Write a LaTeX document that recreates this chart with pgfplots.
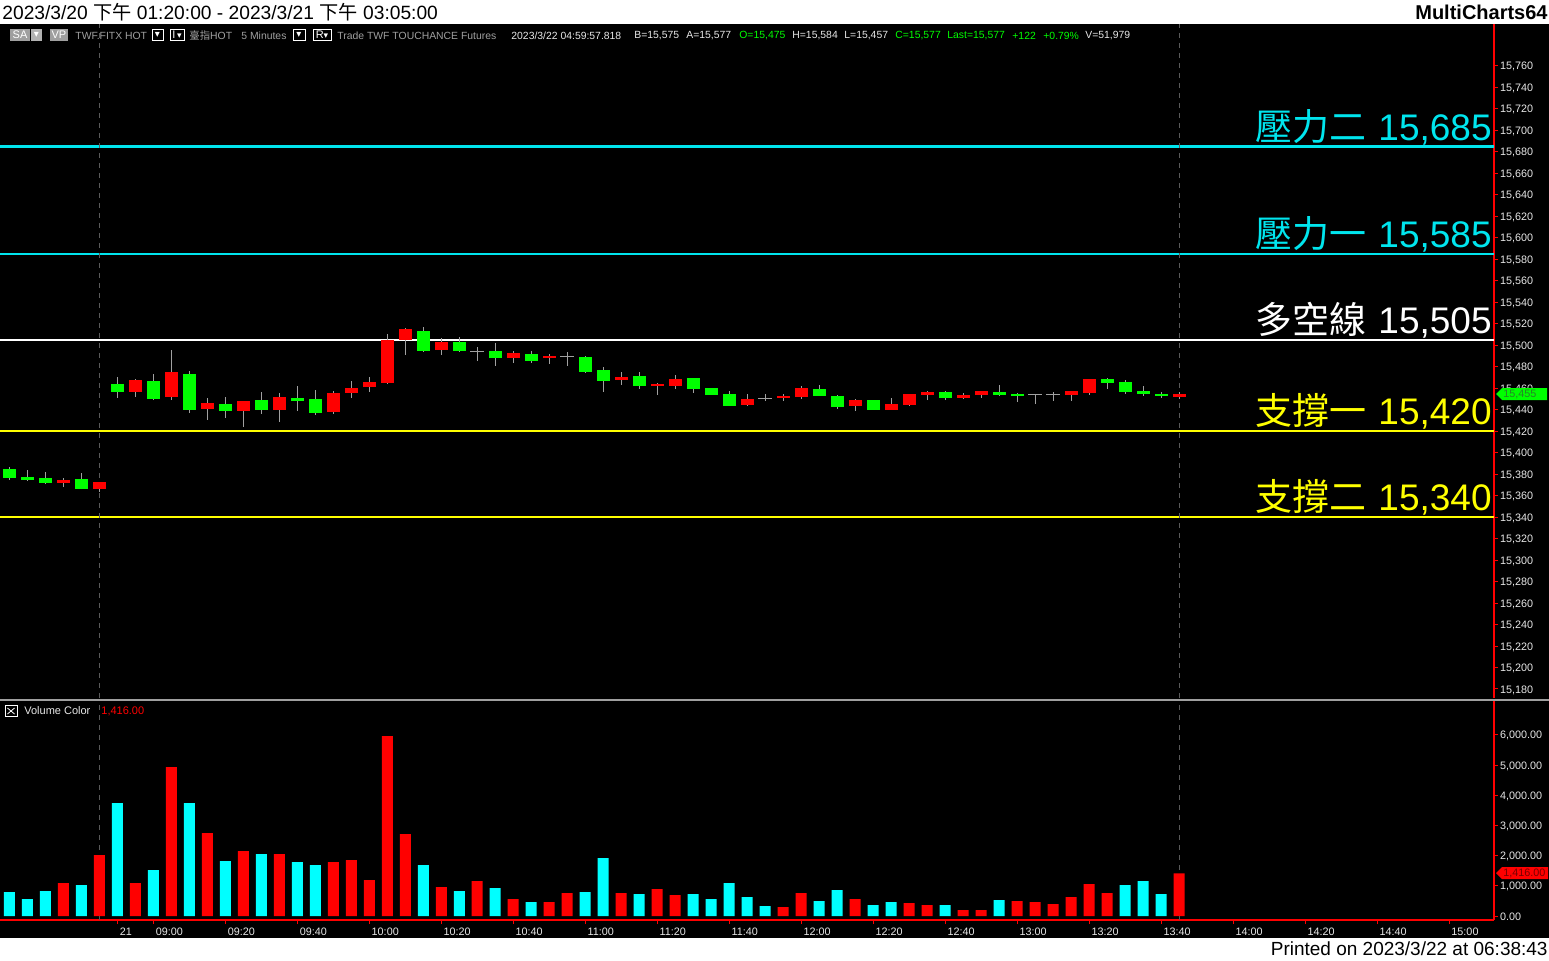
\documentclass[border=0pt]{standalone}
\usepackage{pgfplots}
\usepackage{pgfplotstable}
\pgfplotsset{compat=1.18}
\usepackage{fontspec}
\setmainfont{Liberation Sans}
\newfontfamily\cjk{Noto Sans CJK TC}
\newfontfamily\dejavu{DejaVu Sans}
\definecolor{upred}{RGB}{255,0,0}
\definecolor{dngreen}{RGB}{0,255,0}
\definecolor{wick}{RGB}{160,160,160}
\definecolor{volcyan}{RGB}{0,255,255}
\definecolor{lvlcyan}{RGB}{0,229,238}
\definecolor{lvlyellow}{RGB}{255,255,0}
\definecolor{ticktxt}{RGB}{232,232,232}
\definecolor{hdrgray}{RGB}{160,160,160}
\definecolor{dashgray}{RGB}{90,90,90}

% red (up) candles: index open high low close
\pgfplotstableread{
x o h l c
3 15372 15376.4 15368 15374.6
5 15366.5 15373 15363.7 15372.7
7 15456.5 15468.6 15451.8 15467.7
9 15451.8 15495.6 15449 15475.1
11 15440.7 15450.9 15430.4 15446.3
13 15438.8 15448.1 15423.9 15448.1
15 15439.7 15455.6 15428.6 15451.8
18 15437.9 15457.4 15436 15455.6
19 15455.6 15466.7 15450.9 15460.2
20 15461.1 15470.5 15456.5 15465.8
21 15465 15510.5 15464 15505
22 15505 15516 15490.9 15515.1
24 15495.6 15506.8 15490.9 15503
28 15488.1 15494.7 15483.5 15492.8
30 15488.1 15491.9 15482.6 15490
34 15467.7 15475.1 15463 15470.5
36 15462.1 15464.9 15453.7 15463.9
37 15462.1 15472.3 15459.3 15468.6
41 15444.4 15454.6 15443.5 15450
43 15450.9 15454.6 15448.1 15452.8
44 15451.8 15462.1 15450 15460.2
47 15443.5 15450 15438.8 15449
49 15439.7 15450.9 15439.7 15445.3
50 15444.4 15454.6 15443.5 15454.6
51 15453.7 15457.4 15449 15456.5
53 15450.9 15455.6 15450 15453.7
54 15453.7 15457.4 15450.9 15457.4
59 15453.7 15457.4 15448.1 15457.4
60 15455.6 15468.6 15453.7 15468.6
65 15451.8 15456.5 15450 15454.6
}\redc

% green (down) candles
\pgfplotstableread{
x o h l c
0 15384.8 15386.7 15374.9 15376.7
1 15377.4 15383.9 15373.9 15374.9
2 15376.4 15382 15370.8 15371.8
4 15375.5 15381.1 15366 15366.5
6 15463.9 15470.5 15450.9 15456.5
8 15466.7 15473.3 15449 15450
10 15473.3 15476 15436.9 15439.7
12 15445.3 15451.8 15432.3 15438.8
14 15449 15456.5 15436 15439.7
16 15450.9 15462.1 15438.8 15448.1
17 15450 15458.4 15435 15437
23 15513.3 15517 15493.7 15494.7
25 15503 15507.7 15494 15494.7
27 15494.7 15502.1 15480.7 15488.1
29 15491.9 15494.7 15483.5 15485.4
32 15489.1 15490 15474.2 15475.1
33 15477 15479.8 15456.5 15466.7
35 15471.4 15475.1 15459.3 15462.1
38 15469.5 15469.5 15455.6 15459.3
39 15460.2 15460.2 15453.7 15453.7
40 15454.6 15457.4 15443.5 15443.5
45 15459.3 15463 15452.8 15452.8
46 15452.8 15453.7 15440.7 15442.5
48 15449 15449 15439.7 15439.7
52 15456.5 15457.4 15449 15450.9
55 15456.5 15463 15453 15453.7
56 15454.6 15455.6 15447.2 15452.8
61 15468.6 15469.5 15459.3 15464.9
62 15465.8 15467.7 15454.6 15456.5
63 15457.4 15462.1 15452.8 15454.6
64 15454.6 15456.5 15450.9 15452.8
}\greenc

% doji candles
\pgfplotstableread{
x o h l c
26 15494.4 15498.4 15485.4 15494.4
31 15489.1 15493.7 15480.7 15489.1
42 15450.6 15454.6 15448.1 15450.6
57 15453.7 15454.6 15445.3 15453.7
58 15453.7 15456.5 15448.1 15453.7
}\dojic

\newcommand\hdr[3]{\node[anchor=west,inner sep=0,text=#2,font=\fontsize{5.2}{6}\selectfont] at (#1,35.5) {#3};}

\pgfplotsset{candle/.style={draw=none, mark=none, forget plot,
  error bars/.cd, y dir=plus, y explicit, error mark=none}}

\begin{document}
\begin{tikzpicture}[x=0.5pt,y=-0.5pt]
\fill[white] (0,0) rectangle (1549,960);
\useasboundingbox (0,0) rectangle (1549,960);
\fill[black] (0,24) rectangle (1549,938);
\coordinate (pA) at (0,698);
\coordinate (pB) at (0,920);

% ---------------- price panel ----------------
\begin{axis}[at={(pA)}, anchor=south west, scale only axis,
  width=747pt, height=337pt,
  xmin=-0.52, xmax=82.5, ymin=15171.6, ymax=15799,
  axis y line*=right, axis x line=none,
  y axis line style={upred, line width=0.6pt, -},
  ytick={15180,15200,...,15760}, minor y tick num=1,
  tick align=outside, major tick length=2pt, minor tick length=1pt,
  tick style={upred, line width=0.5pt},
  scaled y ticks=false,
  /pgf/number format/assume math mode=true,
  yticklabel style={font=\fontsize{5.4}{6}\selectfont, text=ticktxt, xshift=-2.5pt, yshift=-0.5pt,
     /pgf/number format/.cd, fixed, precision=0, 1000 sep={,}},
  clip=true]
% level lines
\addplot[lvlcyan, line width=1.3pt, forget plot] coordinates {(-0.52,15685) (82.5,15685)};
\addplot[lvlcyan, line width=1.3pt, forget plot] coordinates {(-0.52,15585) (82.5,15585)};
\addplot[white, line width=1.3pt, forget plot] coordinates {(-0.52,15505) (82.5,15505)};
\addplot[lvlyellow, line width=1.3pt, forget plot] coordinates {(-0.52,15420) (82.5,15420)};
\addplot[lvlyellow, line width=1.3pt, forget plot] coordinates {(-0.52,15340) (82.5,15340)};
% session dashed lines
\addplot[dashgray, line width=0.5pt, dash pattern=on 2.5pt off 2.5pt, forget plot] coordinates {(5,15171.6) (5,15799)};
\addplot[dashgray, line width=0.5pt, dash pattern=on 2.5pt off 2.5pt, forget plot] coordinates {(65,15171.6) (65,15799)};
% wicks
\addplot[candle, error bar style={draw=wick, line width=0.5pt}]
  table[x=x, y=l, y error plus expr=\thisrow{h}-\thisrow{l}] {\redc};
\addplot[candle, error bar style={draw=wick, line width=0.5pt}]
  table[x=x, y=l, y error plus expr=\thisrow{h}-\thisrow{l}] {\greenc};
\addplot[candle, error bar style={draw=wick, line width=0.5pt}]
  table[x=x, y=l, y error plus expr=\thisrow{h}-\thisrow{l}] {\dojic};
\addplot[draw=none, mark=none, forget plot, error bars/.cd, x dir=both, x fixed=0.4, error mark=none,
  error bar style={draw=wick, line width=0.5pt}]
  table[x=x, y=o] {\dojic};
% bodies
\addplot[candle, error bar style={draw=upred, line width=6.5pt}]
  table[x=x, y=o, y error plus expr=\thisrow{c}-\thisrow{o}] {\redc};
\addplot[candle, error bar style={draw=dngreen, line width=6.5pt}]
  table[x=x, y=c, y error plus expr=\thisrow{o}-\thisrow{c}] {\greenc};
\end{axis}

% ---------------- volume panel ----------------
\begin{axis}[at={(pB)}, anchor=south west, scale only axis,
  width=747pt, height=109.5pt,
  xmin=-0.52, xmax=82.5, ymin=-132, ymax=7119,
  axis y line*=right, axis x line*=bottom,
  axis line style={upred, line width=0.6pt, -},
  ytick={0,1000,...,6000},
  xtick={6,8,12,16,20,24,28,32,36,40,44,48,52,56,60,64,68,72,76,80},
  xticklabels={21,09:00,09:20,09:40,10:00,10:20,10:40,11:00,11:20,11:40,12:00,12:20,12:40,13:00,13:20,13:40,14:00,14:20,14:40,15:00},
  tick align=outside, major tick length=2pt,
  tick style={upred, line width=0.5pt},
  scaled y ticks=false,
  /pgf/number format/assume math mode=true,
  yticklabel style={font=\fontsize{5.4}{6}\selectfont, text=ticktxt, xshift=-2.5pt, yshift=-0.5pt,
     /pgf/number format/.cd, fixed, fixed zerofill, precision=2, 1000 sep={,}},
  xticklabel style={font=\fontsize{5.4}{6}\selectfont, text=ticktxt, anchor=north west, xshift=-2.3pt, yshift=1.5pt},
  clip=true]
\addplot[dashgray, line width=0.5pt, dash pattern=on 2.5pt off 2.5pt, forget plot] coordinates {(5,-132) (5,7119)};
\addplot[dashgray, line width=0.5pt, dash pattern=on 2.5pt off 2.5pt, forget plot] coordinates {(65,-132) (65,7119)};
\addplot[ybar, bar width=5.5pt, bar shift=0pt, fill=volcyan, draw=none, forget plot] coordinates {
(0,795) (1,563) (2,828) (4,1026) (6,3742) (8,1523) (10,3742) (12,1821) (14,2053) (16,1788)
(17,1689) (23,1689) (25,828) (27,927) (29,464) (32,795) (33,1921) (35,728) (38,728) (39,563)
(40,1093) (41,629) (42,331) (45,497) (46,861) (48,364) (49,464) (52,364) (55,530) (62,1026)
(63,1159) (64,728)};
\addplot[ybar, bar width=5.5pt, bar shift=0pt, fill=upred, draw=none, forget plot] coordinates {
(3,1093) (5,2020) (7,1093) (9,4934) (11,2748) (13,2152) (15,2053) (18,1788) (19,1854) (20,1192)
(21,5960) (22,2715) (24,960) (26,1159) (28,563) (30,464) (31,762) (34,762) (36,894) (37,695)
(43,298) (44,762) (47,563) (50,430) (51,364) (53,199) (54,199) (56,497) (57,464) (58,397)
(59,629) (60,1060) (61,762) (65,1416)};
\end{axis}

% panel separator
\fill[gray!75!white] (0,698.5) rectangle (1549,701);

% level labels
\node[anchor=base east, inner sep=0, text=lvlcyan, font=\fontsize{18.5}{20}\selectfont] at (1492,140) {{\cjk 壓力二}\hspace{6pt}15,685};
\node[anchor=base east, inner sep=0, text=lvlcyan, font=\fontsize{18.5}{20}\selectfont] at (1492,247) {{\cjk 壓力一}\hspace{6pt}15,585};
\node[anchor=base east, inner sep=0, text=white, font=\fontsize{18.5}{20}\selectfont] at (1492,333) {{\cjk 多空線}\hspace{6pt}15,505};
\node[anchor=base east, inner sep=0, text=lvlyellow, font=\fontsize{18.5}{20}\selectfont] at (1492,424) {{\cjk 支撐一}\hspace{6pt}15,420};
\node[anchor=base east, inner sep=0, text=lvlyellow, font=\fontsize{18.5}{20}\selectfont] at (1492,510) {{\cjk 支撐二}\hspace{6pt}15,340};

% last value markers
\fill[dngreen] (1496,394) -- (1502,388) -- (1547,388) -- (1547,400) -- (1502,400) -- cycle;
\node[anchor=west, inner sep=0, text={rgb,255:red,40;green,130;blue,40}, font=\fontsize{5.4}{6}\selectfont] at (1503,394.5) {15,455};
\fill[upred] (1496,873) -- (1502,867) -- (1548,867) -- (1548,879) -- (1502,879) -- cycle;
\node[anchor=west, inner sep=0, text={rgb,255:red,120;green,0;blue,0}, font=\fontsize{5.4}{6}\selectfont] at (1503,873.5) {1,416.00};

% top title bar
\node[anchor=west, inner sep=0, font=\fontsize{9.6}{12}\selectfont] at (2,12) {2023/3/20 {\cjk 下午} 01:20:00 - 2023/3/21 {\cjk 下午} 03:05:00};
\node[anchor=east, inner sep=0, font=\bfseries\fontsize{10}{12}\selectfont] at (1548,12) {MultiCharts64};
\node[anchor=east, inner sep=0, font=\fontsize{9.5}{12}\selectfont] at (1548,949) {Printed on 2023/3/22 at 06:38:43};

% header row
\fill[gray!75] (10,29) rectangle (30,41);
\node[inner sep=0, text=white, font=\fontsize{5.5}{6}\selectfont] at (20,35) {SA};
\fill[gray!60] (31,29) rectangle (42,41);
\node[inner sep=0, text=white, font=\dejavu\fontsize{5}{6}\selectfont] at (36.5,35) {▾};
\fill[gray!75] (50,29) rectangle (68,41);
\node[inner sep=0, text=white, font=\fontsize{5.5}{6}\selectfont] at (59,35) {VP};
\draw[white, line width=0.5pt] (152,29.5) rectangle (163,40.5);
\node[inner sep=0, text=white, font=\dejavu\fontsize{5}{6}\selectfont] at (157.5,35) {▾};
\draw[white, line width=0.5pt] (170,29.5) rectangle (184,40.5);
\node[inner sep=0, text=white, font=\fontsize{5.5}{6}\selectfont] at (177,35) {I\,{\dejavu\fontsize{4.5}{6}\selectfont ▾}};
\draw[white, line width=0.5pt] (293,29.5) rectangle (305,40.5);
\node[inner sep=0, text=white, font=\dejavu\fontsize{5}{6}\selectfont] at (299,35) {▾};
\draw[white, line width=0.5pt] (313,29.5) rectangle (331,40.5);
\node[inner sep=0, text=white, font=\fontsize{5.5}{6}\selectfont] at (322,35) {R{\dejavu\fontsize{4.5}{6}\selectfont ▾}};
\hdr{75}{hdrgray}{TWF.FITX HOT}
\hdr{189}{hdrgray}{{\cjk 臺指}HOT}
\hdr{241}{hdrgray}{5 Minutes}
\hdr{337}{hdrgray}{Trade TWF TOUCHANCE Futures}
\hdr{511}{ticktxt}{2023/3/22 04:59:57.818}
\hdr{634}{ticktxt}{B=15,575}
\hdr{686}{ticktxt}{A=15,577}
\hdr{739}{dngreen}{O=15,475}
\hdr{792}{ticktxt}{H=15,584}
\hdr{844}{ticktxt}{L=15,457}
\hdr{895}{dngreen}{C=15,577}
\hdr{947}{dngreen}{Last=15,577}
\hdr{1012}{dngreen}{+122}
\hdr{1043}{dngreen}{+0.79\%}
\hdr{1085}{ticktxt}{V=51,979}

% volume legend
\draw[white, line width=0.5pt] (5,705.5) rectangle (17,716.5);
\draw[white, line width=0.4pt] (7.5,708) -- (14.5,714) (7.5,714) -- (14.5,708);
\node[anchor=west, inner sep=0, text=ticktxt, font=\fontsize{5.5}{6}\selectfont] at (24,711) {Volume Color};
\node[anchor=west, inner sep=0, text=upred, font=\fontsize{5.5}{6}\selectfont] at (101,711) {1,416.00};
\end{tikzpicture}
\end{document}
